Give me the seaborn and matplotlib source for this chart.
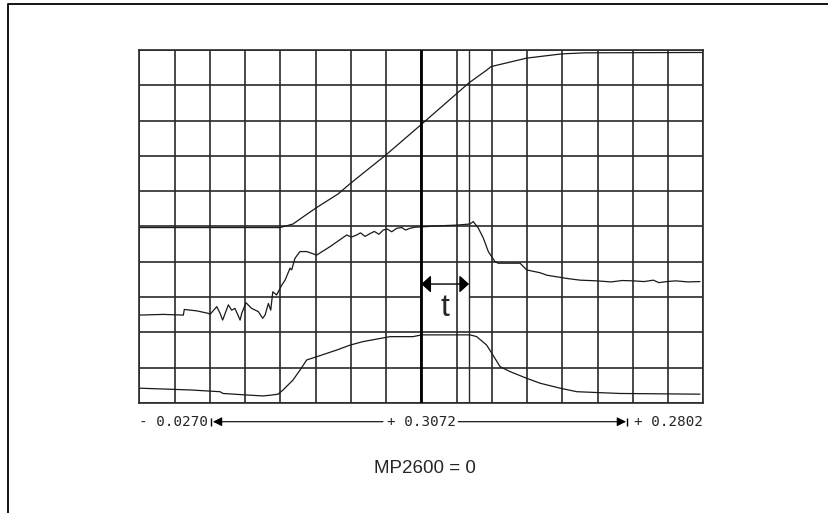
import numpy as np
import pandas as pd
import matplotlib
import matplotlib.pyplot as plt
import seaborn as sns
from matplotlib.lines import Line2D

# Oscilloscope-style recording, time in ms, amplitude in screen divisions
t_start_ms = -27.0
ms_per_div = 19.2
n_xdiv = 16
n_ydiv = 10
cursor_ms = 126.6
t_width_ms = 26.0

pos_t = [-27.0, 49.6, 56.7, 60.5, 69.1, 81.2, 88.2, 107.4, 126.8, 152.6, 162.2,
         164.6, 184.0, 203.1, 215.8, 280.1]
pos_y = [4.97, 4.97, 5.07, 5.21, 5.52, 5.92, 6.23, 7.03, 7.90, 9.07, 9.43,
         9.53, 9.77, 9.89, 9.92, 9.93]

vel_t = [-27.0, -13.9, -3.0, -2.5, 4.3, 10.6, 11.5, 15.2, 17.0, 18.4, 21.5, 23.3,
         25.1, 27.9, 28.8, 31.1, 34.2, 37.8, 40.2, 41.5, 43.3, 44.6, 45.7, 47.8,
         50.6, 52.4, 55.1, 56.0, 57.8, 60.5, 64.2, 66.9, 69.6, 76.9, 86.0, 88.5,
         91.4, 93.5, 96.0, 98.7, 101.0, 103.5, 105.9, 108.0, 110.5, 113.2, 116.0,
         118.0, 120.5, 123.0, 126.8, 136.8, 145.9, 153.1, 154.9, 157.7, 160.4,
         163.1, 165.0, 166.8, 168.5, 180.4, 184.0, 191.3, 195.0, 202.2, 207.0,
         213.1, 222.2, 230.0, 236.0, 242.1, 248.0, 253.0, 256.0, 260.3, 265.0,
         272.0, 278.4]
vel_y = [2.49, 2.51, 2.49, 2.65, 2.61, 2.54, 2.51, 2.73, 2.54, 2.35, 2.78, 2.63,
         2.68, 2.35, 2.54, 2.84, 2.68, 2.59, 2.40, 2.49, 2.82, 2.63, 3.15, 3.06,
         3.34, 3.48, 3.82, 3.77, 4.10, 4.29, 4.29, 4.24, 4.19, 4.43, 4.76, 4.70,
         4.76, 4.82, 4.72, 4.80, 4.86, 4.78, 4.90, 4.93, 4.85, 4.95, 4.97,
         4.90, 4.95, 4.98, 4.99, 5.02, 5.04, 5.07, 5.14, 4.95, 4.67,
         4.29, 4.14, 4.00, 3.96, 3.96, 3.77, 3.69, 3.62, 3.56, 3.52,
         3.48, 3.46, 3.43, 3.47, 3.46, 3.44, 3.48, 3.41, 3.44, 3.46,
         3.43, 3.44]

cur_t = [-27.0, 0.6, 17.0, 18.6, 30.6, 40.4, 44.2, 48.6, 51.3, 56.7, 60.5, 64.2,
         69.6, 80.5, 87.8, 94.9, 109.6, 122.1, 126.8, 153.1, 156.8, 162.2, 165.0,
         169.5, 174.9, 184.0, 191.3, 202.2, 211.3, 234.8, 278.4]
cur_y = [0.42, 0.37, 0.32, 0.27, 0.23, 0.20, 0.22, 0.25, 0.37, 0.65, 0.93, 1.22,
         1.31, 1.50, 1.64, 1.74, 1.88, 1.88, 1.93, 1.93, 1.88, 1.64, 1.41,
         1.03, 0.89, 0.70, 0.56, 0.42, 0.32, 0.27, 0.25]

label_left = "- 0.0270"
label_mid = "+ 0.3072"
label_right = "+ 0.2802"
caption = "MP2600 = 0"

sns.set_style("white")
grid_col = "#2a2a2a"
trace_col = "#1a1a1a"

fig = plt.figure(figsize=(8.29, 5.13), dpi=100)
ax = fig.add_axes([139.3 / 829, 110 / 513, 564 / 829, 353 / 513])

t_end_ms = t_start_ms + n_xdiv * ms_per_div
ax.set_xlim(t_start_ms, t_end_ms)
ax.set_ylim(0, n_ydiv)

# grid
xg = t_start_ms + ms_per_div * np.arange(n_xdiv + 1)
ax.vlines(xg, 0, n_ydiv, color=grid_col, lw=1.2, zorder=1)
rows = [r for r in range(n_ydiv + 1) if r != 3]
ax.hlines(rows, t_start_ms, t_end_ms, color=grid_col, lw=1.2, zorder=1)
ax.hlines([3, 3], [t_start_ms, cursor_ms + t_width_ms], [cursor_ms, t_end_ms],
          color=grid_col, lw=1.2, zorder=1)
ax.axvline(cursor_ms, color="black", lw=2.0, zorder=3)
ax.axvline(cursor_ms + t_width_ms, color=grid_col, lw=1.0, zorder=1)

for tt, yy in [(pos_t, pos_y), (vel_t, vel_y), (cur_t, cur_y)]:
    df = pd.DataFrame({"time_ms": tt, "div": yy})
    sns.lineplot(data=df, x="time_ms", y="div", ax=ax, color=trace_col,
                 linewidth=0.9, estimator=None, sort=False, zorder=2)

for s in ax.spines.values():
    s.set_color(grid_col)
    s.set_linewidth(1.2)
ax.set_xticks([])
ax.set_yticks([])
ax.set_xlabel("")
ax.set_ylabel("")

# t marker
ax.annotate("", xy=(cursor_ms, 3.37), xytext=(cursor_ms + t_width_ms, 3.37),
            arrowprops=dict(arrowstyle="<|-|>,head_length=0.55,head_width=0.5",
                            mutation_scale=10.5, color="black", lw=1.0,
                            shrinkA=0, shrinkB=0), zorder=4)
ax.text(cursor_ms + t_width_ms / 2, 2.68, "t", ha="center", va="center",
        fontsize=23, family="Liberation Sans")

# bottom scale labels
ly = -0.53
mono = "DejaVu Sans Mono"
ax.text(t_start_ms, ly, label_left, ha="left", va="center", fontsize=10.3,
        family=mono, clip_on=False)
ax.text(cursor_ms, ly, label_mid, ha="center", va="center", fontsize=10.3,
        family=mono, clip_on=False)
ax.text(t_end_ms, ly, label_right, ha="right", va="center", fontsize=10.3,
        family=mono, clip_on=False)
ax.annotate("", xy=(13.1, ly), xytext=(105.7, ly), annotation_clip=False,
            arrowprops=dict(arrowstyle="-|>,head_length=0.6,head_width=0.3",
                            mutation_scale=9, color="black", lw=0.8,
                            shrinkA=0, shrinkB=0))
ax.annotate("", xy=(238.1, ly), xytext=(146.7, ly), annotation_clip=False,
            arrowprops=dict(arrowstyle="-|>,head_length=0.6,head_width=0.3",
                            mutation_scale=9, color="black", lw=0.8,
                            shrinkA=0, shrinkB=0))
ax.plot([12.3, 238.7], [ly, ly], ls="none", marker="|", ms=6, mew=1.0,
        color="black", clip_on=False)

fig.text(0.513, 0.086, caption, ha="center", va="center", fontsize=13.5,
         family="Liberation Sans")

# page frame (top and left edges)
fig.add_artist(Line2D([8.5 / 829, 8.5 / 829, 1.0], [0.0, 1 - 4 / 513, 1 - 4 / 513],
                      transform=fig.transFigure, color="black", lw=1.3))

fig.savefig("out.png", dpi=100)
